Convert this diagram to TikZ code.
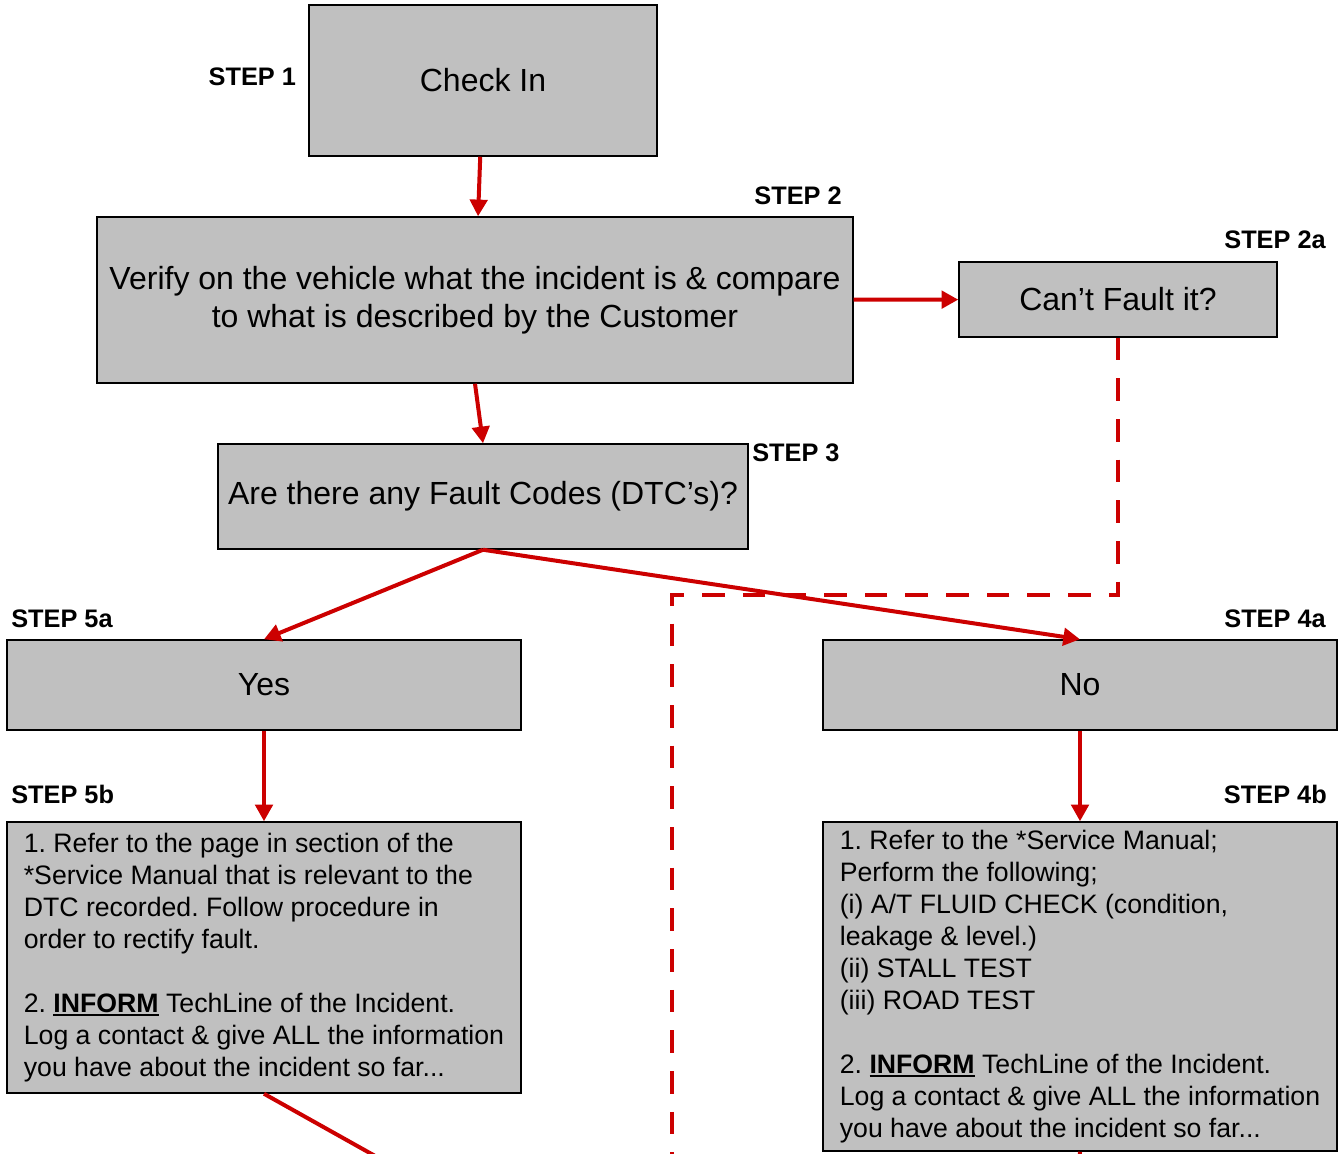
\documentclass[tikz,border=0pt]{standalone}
\usepackage{fontspec}
\setmainfont{Liberation Sans}
\definecolor{flowred}{HTML}{CC0000}
\definecolor{boxgray}{HTML}{C0C0C0}
\usepackage{tikz}
\usetikzlibrary{arrows.meta, positioning}
\frenchspacing

\newcommand{\thickul}[1]{\vtop{\hbox{#1}\kern1.2pt\hrule height 1.6pt}}

\begin{document}
\begin{tikzpicture}[
  x=0.75pt, y=-0.75pt,
  box/.style={rectangle, draw=black, line width=1.1pt, fill=boxgray,
              inner sep=0pt, align=center,
              font=\fontsize{24}{28.5}\selectfont},
  notebox/.style={box, align=left, font=\fontsize{20}{24}\selectfont},
  steplbl/.style={inner sep=0pt, font=\fontsize{19}{21}\selectfont\bfseries},
  arr/.style={-{Triangle[length=12.5pt, width=13pt]}, line width=3pt, flowred},
  dasharr/.style={line width=3.5pt, flowred, dash pattern=on 17pt off 13.5pt},
]
\useasboundingbox (0,0) rectangle (1344,1153);
\clip (0,0) rectangle (1344,1153);

%% Top of the chart
\node[box, minimum width=261pt, minimum height=113.25pt] (chk) at (483,80.5) {Check In};
\node[box, minimum width=567pt, minimum height=124.5pt] (vfy) at (475,300)
  {Verify on the vehicle what the incident is \& compare\\ to what is described by the Customer};
\node[box, minimum width=238.5pt, minimum height=56.25pt] (cant) at (1118,299.5) {Can't Fault it?};
\node[box, minimum width=397.5pt, minimum height=78.75pt] (dtc) at (483,496.5) {Are there any Fault Codes (DTC's)?};

\node[steplbl, left=9pt of chk, yshift=2.5pt] (s1) {STEP 1};
\node[steplbl, anchor=south east] (s2) at (842,205) {STEP 2};
\node[steplbl, anchor=south east] (s2a) at (1326,249) {STEP 2a};
\node[steplbl, anchor=south west] (s3) at (752,462) {STEP 3};

%% Yes branch (left column)
\node[box, minimum width=385.5pt, minimum height=67.5pt] (yes) at (264,685) {Yes};
\node[notebox, minimum width=385.5pt, minimum height=203.25pt] (fivb) at (264,957.5)
  {1. Refer to the page in section of the\\
   *Service Manual that is relevant to the\\
   DTC recorded. Follow procedure in\\
   order to rectify fault.\\[24pt]
   2. \thickul{\textbf{INFORM}} TechLine of the Incident.\\
   Log a contact \& give ALL the information\\
   you have about the incident so far...};

\node[steplbl, anchor=south west] (s5a) at (11,628) {STEP 5a};
\node[steplbl, anchor=south west] (s5b) at (11,804) {STEP 5b};

%% No branch (right column)
\node[box, minimum width=385.5pt, minimum height=67.5pt] (no) at (1080,685) {No};
\node[notebox, minimum width=385.5pt, minimum height=246.75pt] (fourb) at (1080,986.5)
  {1. Refer to the *Service Manual;\\
   Perform the following;\\
   (i) A/T FLUID CHECK (condition,\\
   leakage \& level.)\\
   (ii) STALL TEST\\
   (iii) ROAD TEST\\[24pt]
   2. \thickul{\textbf{INFORM}} TechLine of the Incident.\\
   Log a contact \& give ALL the information\\
   you have about the incident so far...};

\node[steplbl, anchor=south east] (s4a) at (1326,628) {STEP 4a};
\node[steplbl, anchor=south east] (s4b) at (1327,804) {STEP 4b};

%% Off-page ends
\coordinate (dashturn) at (672,595);
\coordinate (dashend)  at (672,1210);
\coordinate (fivbend)  at (477,1213);
\coordinate (fourbend) at (1078,1210);

%% Connectors
\draw[arr] (chk)  -- (vfy);
\draw[arr] (vfy.south) -- (dtc.north);
\draw[arr] (vfy)  -- (cant);
\draw[arr] (dtc.south) -- (yes.north);
\draw[arr] (dtc.south) -- (no.north);
\draw[arr] (yes)  -- (fivb);
\draw[arr] (no)   -- (fourb);
\draw[line width=3pt, flowred] (fivb.south) -- (fivbend);
\draw[line width=3pt, flowred] (fourb.south) -- (fourbend);
\draw[dasharr] (cant.south) |- (dashturn) -- (dashend);

\end{tikzpicture}
\end{document}
